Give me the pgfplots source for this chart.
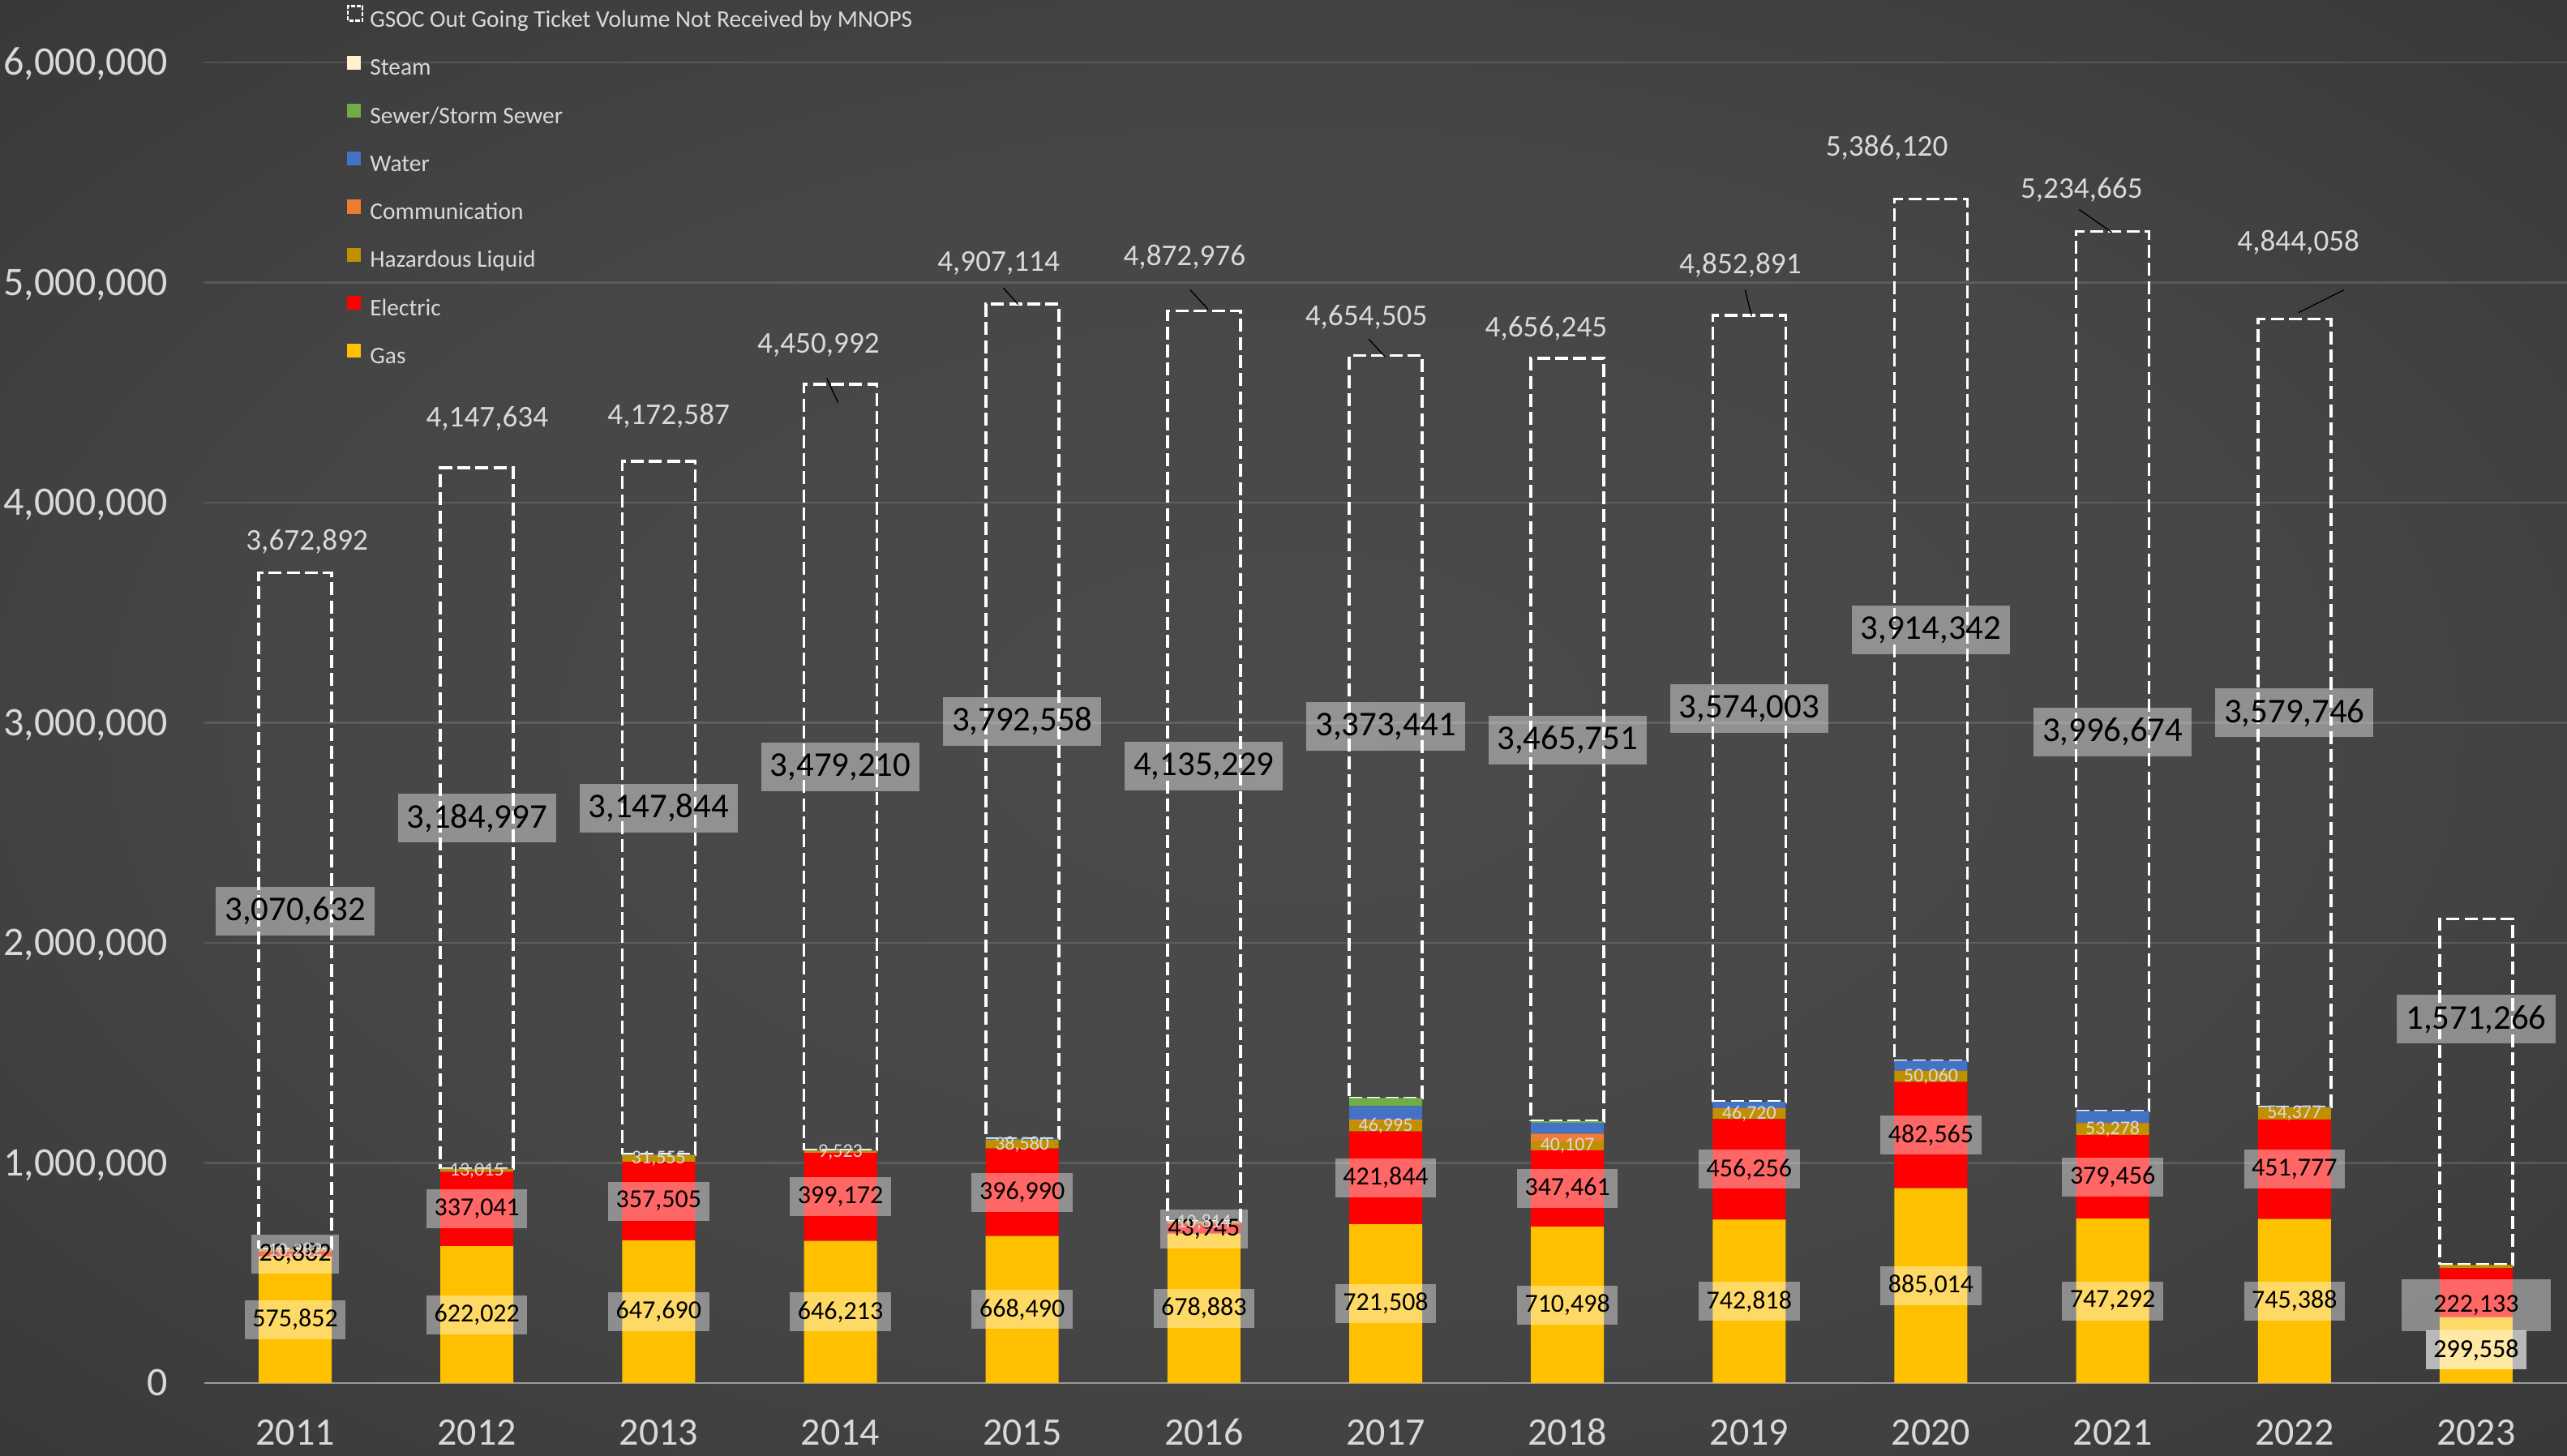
\documentclass[border=0pt]{standalone}
\usepackage{fontspec}
\setmainfont{Carlito}
\usepackage{pgfplots}
\pgfplotsset{compat=1.18}
\usepackage{pgfplotstable}

\definecolor{gasc}{HTML}{FFC000}
\definecolor{elecc}{HTML}{FF0000}
\definecolor{hazc}{HTML}{BF9000}
\definecolor{comc}{HTML}{ED7D31}
\definecolor{watc}{HTML}{4472C4}
\definecolor{sewc}{HTML}{70AD47}
\definecolor{stmc}{HTML}{FFF2CC}
\definecolor{lbl}{HTML}{D9D9D9}
\definecolor{axc}{HTML}{9A9A9A}
\definecolor{bga}{HTML}{4B4B4B}
\definecolor{bgb}{HTML}{464646}
\definecolor{bgd}{HTML}{303030}
\definecolor{bge}{HTML}{272727}
\definecolor{bgf}{HTML}{252525}

\pgfdeclareradialshading{bgshade}{\pgfpoint{0bp}{0bp}}{color(0bp)=(bga); color(20bp)=(bgb); color(45bp)=(bgd); color(60bp)=(bge); color(80bp)=(bgf)}

\pgfplotstableread{
x gas elec haz comm water sewer steam gsoc
0 575852 20882 10282 0 2000 1000 0 3070632
1 622022 337041 13015 0 1500 0 0 3184997
2 647690 357505 31555 0 2500 0 0 3147844
3 646213 399172 9523 0 2000 1500 0 3479210
4 668490 396990 38580 0 5000 1000 0 3792558
5 678883 43945 10814 0 1500 0 0 4135229
6 721508 421844 46995 6000 62000 37000 0 3373441
7 710498 347461 40107 35000 49000 7000 0 3465751
8 742818 456256 46720 2000 30000 0 0 3574003
9 885014 482565 50060 2000 45000 0 0 3914342
10 747292 379456 53278 3000 53000 0 0 3996674
11 745388 451777 54377 0 3000 0 0 3579746
12 299558 222133 15000 0 0 0 0 1571266
}\datatab

\pgfplotstableread{
x y lab
0 287926 575,852
1 311011 622,022
2 323845 647,690
3 323107 646,213
4 334245 668,490
5 339442 678,883
6 360754 721,508
7 355249 710,498
8 371409 742,818
9 442507 885,014
10 373646 747,292
11 372694 745,388
12 149779 299,558
0 586293 20,882
1 790282 337,041
2 826443 357,505
3 845799 399,172
4 866985 396,990
5 700856 43,945
6 932430 421,844
7 884229 347,461
8 970946 456,256
9 1126297 482,565
10 937020 379,456
11 971277 451,777
}\boxlab

\pgfplotstableread{
x y lab
12 353000 222,133
}\biglab

\pgfplotstableread{
x y lab
0 601875 10,282
1 965571 13,015
2 1020973 31,555
3 1050147 9,523
4 1084770 38,580
5 728235 10,814
6 1166850 46,995
7 1078013 40,107
8 1222434 46,720
9 1392609 50,060
10 1153387 53,278
11 1224354 54,377
}\hazlab

\pgfplotstableread{
x y lab
0 2144332 3,070,632
1 2566077 3,184,997
2 2613172 3,147,844
3 2798013 3,479,210
4 3006339 3,792,558
5 2802757 4,135,229
6 2982068 3,373,441
7 2921942 3,465,751
8 3064796 3,574,003
9 3421810 3,914,342
10 2959000 3,996,674
11 3044415 3,579,746
12 1652000 1,571,266
}\gsoclab

\pgfplotstableread{
x y lab
0.065 3822000 3,672,892
1.056 4380000 4,147,634
2.055 4395000 4,172,587
2.879 4714000 4,450,992
3.870 5086000 4,907,114
4.893 5116000 4,872,976
5.893 4841000 4,654,505
6.883 4789000 4,656,245
7.951 5079000 4,852,891
8.757 5614000 5,386,120
9.829 5421000 5,234,665
11.022 5183000 4,844,058
}\totlab

\pgfplotsset{
  commonaxis/.style={
    at={(63pt,22.5pt)}, anchor=south west,
    width=728.5pt, height=407.25pt, scale only axis,
    xmin=-0.5, xmax=12.5, ymin=0, ymax=6000000,
  },
  labelplot/.style={
    only marks, mark=*, mark size=0pt, mark options={draw=none, fill=none},
    point meta=explicit symbolic, nodes near coords,
    nodes near coords style={anchor=center},
  },
}

\begin{document}
\begin{tikzpicture}
\shade[shading=bgshade] (0,0) rectangle (791.5pt,449pt);

\begin{axis}[
  commonaxis,
  ybar stacked, bar width=22.5pt,
  xtick={0,1,2,3,4,5,6,7,8,9,10,11,12},
  xticklabels={2011,2012,2013,2014,2015,2016,2017,2018,2019,2020,2021,2022,2023},
  ytick={0,1000000,2000000,3000000,4000000,5000000,6000000},
  scaled y ticks=false,
  /pgf/number format/assume math mode=true,
  yticklabel={\pgfmathprintnumber[fixed,precision=0,1000 sep={,}]{\tick}},
  axis lines*=left,
  x axis line style={draw=axc, line width=0.6pt},
  y axis line style={draw=none},
  major tick length=0pt,
  ymajorgrids,
  grid style={draw=white, draw opacity=0.12, line width=0.7pt},
  yticklabel style={font=\fontsize{12.5}{15}\selectfont, text=lbl, anchor=base east, inner sep=0pt, xshift=-11.1pt, yshift=-3.95pt},
  xticklabel style={font=\fontsize{12}{14}\selectfont, text=lbl, anchor=base, inner sep=0pt, yshift=-19.25pt},
  reverse legend,
  legend cell align=left,
  legend style={at={(0.0604,1.0435)}, anchor=north west, draw=none, fill=none,
    inner sep=0pt, outer sep=0pt, font=\fontsize{7.35}{8}\selectfont, text=lbl,
    row sep=7.27pt, column sep=2pt,
    nodes={inner sep=0pt, text height=5pt, text depth=1.5pt}},
]
\addplot[fill=gasc, draw=none, legend image code/.code={\fill[gasc] (0pt,0pt) rectangle (4.3pt,4.3pt);}] table[x=x,y=gas]{\datatab};
\addlegendentry{Gas}
\addplot[fill=elecc, draw=none, legend image code/.code={\fill[elecc] (0pt,0pt) rectangle (4.3pt,4.3pt);}] table[x=x,y=elec]{\datatab};
\addlegendentry{Electric}
\addplot[fill=hazc, draw=none, legend image code/.code={\fill[hazc] (0pt,0pt) rectangle (4.3pt,4.3pt);}] table[x=x,y=haz]{\datatab};
\addlegendentry{Hazardous Liquid}
\addplot[fill=comc, draw=none, legend image code/.code={\fill[comc] (0pt,0pt) rectangle (4.3pt,4.3pt);}] table[x=x,y=comm]{\datatab};
\addlegendentry{Communication}
\addplot[fill=watc, draw=none, legend image code/.code={\fill[watc] (0pt,0pt) rectangle (4.3pt,4.3pt);}] table[x=x,y=water]{\datatab};
\addlegendentry{Water}
\addplot[fill=sewc, draw=none, legend image code/.code={\fill[sewc] (0pt,0pt) rectangle (4.3pt,4.3pt);}] table[x=x,y=sewer]{\datatab};
\addlegendentry{Sewer/Storm Sewer}
\addplot[fill=stmc, draw=none, legend image code/.code={\fill[stmc] (0pt,0pt) rectangle (4.3pt,4.3pt);}] table[x=x,y=steam]{\datatab};
\addlegendentry{Steam}
\addplot[fill=none, draw=white, line width=0.9pt, dash pattern=on 4pt off 1.6pt,
  legend image code/.code={\draw[white, line width=0.6pt, dash pattern=on 1.3pt off 0.5pt] (0.3pt,0.3pt) rectangle (4.8pt,4.8pt);}] table[x=x,y=gsoc]{\datatab};
\addlegendentry{GSOC Out Going Ticket Volume Not Received by MNOPS}
\end{axis}

\begin{axis}[commonaxis, hide axis, clip=false]
\addplot[labelplot, nodes near coords style={font=\fontsize{8}{9}\selectfont, text=black, fill=white, fill opacity=0.4, text opacity=1, inner xsep=2.4pt, inner ysep=0pt, minimum height=12pt}] table[x=x,y=y,meta=lab]{\boxlab};
\addplot[labelplot, nodes near coords style={font=\fontsize{8}{9}\selectfont, text=black, fill=white, fill opacity=0.4, text opacity=1, inner sep=0pt, minimum width=46pt, minimum height=16pt}] table[x=x,y=y,meta=lab]{\biglab};
\addplot[labelplot, nodes near coords style={font=\fontsize{8}{9}\selectfont, text=black, fill=white, fill opacity=0.4, text opacity=1, inner xsep=2.4pt, inner ysep=0pt, minimum height=12pt}] table[x=x,y=y,meta=lab]{
x y lab
12 149779 299,558
};
\addplot[labelplot, nodes near coords style={font=\fontsize{6}{7}\selectfont, text=lbl, inner sep=0pt}] table[x=x,y=y,meta=lab]{\hazlab};
\addplot[labelplot, nodes near coords style={font=\fontsize{10.7}{12}\selectfont, text=black, fill=white, fill opacity=0.4, text opacity=1, inner xsep=2.75pt, inner ysep=0pt, minimum height=15pt}] table[x=x,y=y,meta=lab]{\gsoclab};
\addplot[labelplot, nodes near coords style={font=\fontsize{9.3}{11}\selectfont, text=lbl, inner sep=0pt}] table[x=x,y=y,meta=lab]{\totlab};
\addplot[black, line width=0.35pt] coordinates {(2.924,4566000) (2.987,4454000)};
\addplot[black, line width=0.35pt] coordinates {(3.897,4975000) (3.978,4900000)};
\addplot[black, line width=0.35pt] coordinates {(4.924,4967000) (5.023,4878000)};
\addplot[black, line width=0.35pt] coordinates {(5.906,4744000) (5.996,4663000)};
\addplot[black, line width=0.35pt] coordinates {(7.978,4967000) (8.013,4848000)};
\addplot[black, line width=0.35pt] coordinates {(9.815,5332000) (9.995,5228000)};
\addplot[black, line width=0.35pt] coordinates {(11.022,4863000) (11.274,4967000)};
\end{axis}

\pgfresetboundingbox
\useasboundingbox (0,0) rectangle (791.5pt,449pt);
\end{tikzpicture}
\end{document}
